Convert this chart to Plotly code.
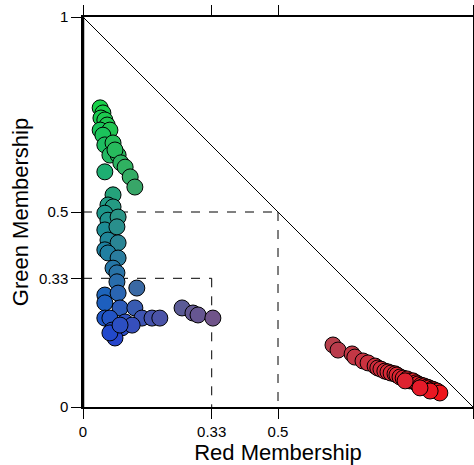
import numpy as np
import plotly.graph_objects as go

# Fuzzy cluster memberships per sample (blue = 1 - red - green)
red_membership = [
    # green-dominant group
    0.044, 0.051, 0.046, 0.056, 0.062, 0.044, 0.069, 0.051, 0.056, 0.077,
    0.069, 0.090, 0.082, 0.097, 0.056, 0.108, 0.121, 0.133,
    # mixed green/blue group
    0.077, 0.064, 0.077, 0.056, 0.064, 0.090, 0.056, 0.087, 0.064, 0.090,
    0.056, 0.064, 0.090, 0.077, 0.087, 0.087, 0.138,
    # blue-dominant group
    0.056, 0.090, 0.056, 0.095, 0.133, 0.056, 0.069, 0.108, 0.151, 0.177,
    0.197, 0.074, 0.100, 0.126, 0.082, 0.069, 0.095,
    # blue/red mix
    0.254, 0.282, 0.295, 0.333,
    # red-dominant group
    0.641, 0.654, 0.690, 0.697, 0.718, 0.731, 0.749, 0.756, 0.764, 0.774,
    0.782, 0.790, 0.800, 0.805, 0.813, 0.821, 0.831, 0.838, 0.846, 0.854,
    0.859, 0.867, 0.874, 0.882, 0.887, 0.895, 0.900, 0.908, 0.915, 0.890,
    0.864, 0.826,
]
green_membership = [
    0.767, 0.754, 0.741, 0.736, 0.723, 0.710, 0.710, 0.697, 0.672, 0.677,
    0.646, 0.646, 0.659, 0.626, 0.603, 0.615, 0.590, 0.564,
    0.544, 0.518, 0.513, 0.497, 0.479, 0.487, 0.454, 0.462, 0.428, 0.421,
    0.403, 0.395, 0.382, 0.356, 0.344, 0.321, 0.305,
    0.287, 0.292, 0.267, 0.254, 0.254, 0.228, 0.228, 0.218, 0.228, 0.228,
    0.228, 0.197, 0.203, 0.210, 0.177, 0.190, 0.210,
    0.254, 0.241, 0.236, 0.228,
    0.159, 0.146, 0.136, 0.128, 0.118, 0.113, 0.105, 0.100, 0.097, 0.092,
    0.090, 0.087, 0.085, 0.082, 0.077, 0.074, 0.072, 0.067, 0.067, 0.062,
    0.059, 0.056, 0.054, 0.051, 0.049, 0.046, 0.044, 0.041, 0.036, 0.041,
    0.049, 0.067,
]

tick_vals = [0, 0.33, 0.5, 1]
tick_text = ["0", "0.33", "0.5", "1"]

r = np.array(red_membership)
g = np.array(green_membership)
b = np.clip(1 - r - g, 0, 1)

# RGB colour mixed from the three memberships (mild gamma to brighten)
def mix(rv, gv, bv):
    c = [int(round(255 * max(v, 0) ** 0.75)) for v in (rv, gv, bv)]
    return f"rgb({c[0]},{c[1]},{c[2]})"

colors = [mix(a, c, d) for a, c, d in zip(r, g, b)]

fig = go.Figure()
fig.add_trace(go.Scatter(
    x=r, y=g, mode="markers",
    marker=dict(size=16, color=colors, line=dict(color="black", width=1)),
    cliponaxis=False, showlegend=False,
))

line_black = dict(color="black", width=1)
dash_black = dict(color="black", width=1, dash="dash")
shapes = [
    dict(type="line", x0=0, y0=1, x1=1, y1=0, xref="x", yref="y", line=line_black, layer="below"),
    dict(type="line", x0=0, y0=0.5, x1=0.5, y1=0.5, xref="x", yref="y", line=dash_black, layer="below"),
    dict(type="line", x0=0.5, y0=0.5, x1=0.5, y1=0, xref="x", yref="y", line=dash_black, layer="below"),
    dict(type="line", x0=0, y0=0.33, x1=0.33, y1=0.33, xref="x", yref="y", line=dash_black, layer="below"),
    dict(type="line", x0=0.33, y0=0.33, x1=0.33, y1=0, xref="x", yref="y", line=dash_black, layer="below"),
    dict(type="line", x0=0, y0=0, x1=0, y1=1, xref="x", yref="y", line=dict(color="black", width=2.5)),
]

font_family = "Liberation Sans, Arial, Helvetica, sans-serif"
axis_common = dict(
    range=[0, 1], tickmode="array", tickvals=tick_vals, ticktext=tick_text,
    showgrid=False, zeroline=False, showline=True, linecolor="black", linewidth=1.5,
    mirror="ticks", ticks="outside", ticklen=10, tickwidth=1, tickcolor="black",
    automargin=False,
    tickfont=dict(family=font_family, size=15, color="black"),
)

fig.update_layout(
    width=474, height=465,
    margin=dict(l=83, r=1, t=17, b=58),
    paper_bgcolor="white", plot_bgcolor="white",
    xaxis=dict(**axis_common,
               title=dict(text="Red Membership", standoff=2,
                          font=dict(family=font_family, size=22, color="black"))),
    yaxis=dict(**axis_common, ticklabelstandoff=0,
               title=dict(text="Green Membership", standoff=4,
                          font=dict(family=font_family, size=22, color="black"))),
    shapes=shapes,
)

fig.write_html("out.html")
